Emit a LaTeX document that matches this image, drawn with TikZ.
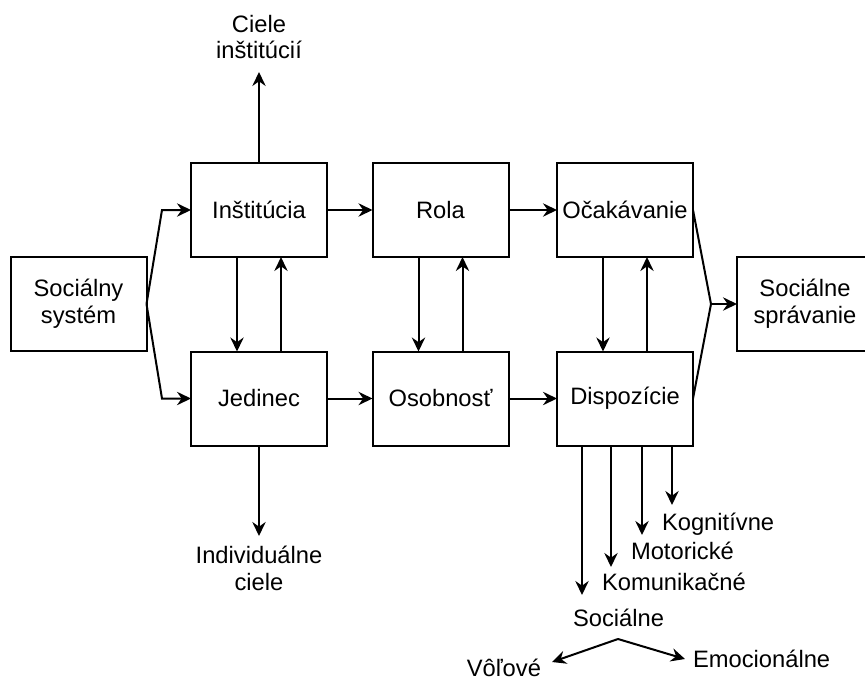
\documentclass[tikz,border=0pt]{standalone}
\usepackage{fontspec}
\setmainfont{Liberation Sans}
\usetikzlibrary{arrows.meta,calc}
\begin{document}
\begin{tikzpicture}[x=0.75pt,y=-0.75pt, line width=1.5pt,
  box/.style={draw, minimum width=102pt, minimum height=70.5pt, inner sep=0pt, outer sep=0pt, align=center, font=\fontsize{17.8}{20}\selectfont},
  lbl/.style={inner sep=0pt, outer sep=0pt, align=center, font=\fontsize{17.8}{20}\selectfont},
  arr/.style={-{Stealth[length=10.5pt,width=10pt,inset=3.5pt]}, line join=miter}]
\useasboundingbox (0,0) rectangle (865,679);

% boxes
\node[box] (sys)  at (78.5,304) {Sociálny\\systém};
\node[box] (inst) at (259,210) {Inštitúcia};
\node[box] (jed)  at (259,398.5) {Jedinec};
\node[box] (rola) at (440.5,210) {Rola};
\node[box] (osob) at (440.5,398.5) {Osobnosť};
\node[box] (ocak) at (625,210) {Očakávanie};
\node[box] (disp) at (625,398.5) {Dispozície};
\node[box] (soc)  at (805,304) {Sociálne\\správanie};

% free labels
\node[lbl, anchor=north] (ciele) at (259,15) {Ciele\\inštitúcií};
\node[lbl, anchor=north] (indiv) at (259,546) {Individuálne\\ciele};
\node[lbl, anchor=base west] (kog) at (662,530) {Kognitívne};
\node[lbl, anchor=base west] (mot) at (631,559) {Motorické};
\node[lbl, anchor=base west] (kom) at (602,590) {Komunikačné};
\node[lbl, anchor=base west] (socl) at (573,626) {Sociálne};
\node[lbl, anchor=base east] (vol) at (541,676.5) {Vôľové};
\node[lbl, anchor=base west] (emo) at (693,667) {Emocionálne};

% connector points
\coordinate (cieletip) at (259,72);
\coordinate (indivtip) at (259,536);
\coordinate (merge) at (711,304);
\coordinate (kogtip) at (672,505);
\coordinate (mottip) at (642,535);
\coordinate (komtip) at (611,567);
\coordinate (soctip) at (582,595);
\coordinate (fork) at (618,639);
\coordinate (voltip) at (552,662);
\coordinate (emotip) at (685,659);

% left fork
\draw[arr] (sys.east) -- ($(inst.west)+(-29,0)$) -- (inst.west);
\draw[arr] (sys.east) -- ($(jed.west)+(-29,0)$) -- (jed.west);

% horizontal
\draw[arr] (inst.east) -- (rola.west);
\draw[arr] (rola.east) -- (ocak.west);
\draw[arr] (jed.east) -- (osob.west);
\draw[arr] (osob.east) -- (disp.west);

% vertical pairs
\foreach \a/\b in {inst/jed, rola/osob, ocak/disp}{
  \draw[arr] ($(\a.south)+(-22,0)$) -- ($(\b.north)+(-22,0)$);
  \draw[arr] ($(\b.north)+(22,0)$) -- ($(\a.south)+(22,0)$);
}

% top / bottom outputs
\draw[arr] (inst.north) -- (cieletip);
\draw[arr] (jed.south) -- (indivtip);

% right merge
\draw (ocak.east) -- (merge);
\draw (disp.east) -- (merge);
\draw[arr] (merge) -- (soc.west);

% dispositions
\draw[arr] (disp.south -| kogtip) -- (kogtip);
\draw[arr] (disp.south -| mottip) -- (mottip);
\draw[arr] (disp.south -| komtip) -- (komtip);
\draw[arr] (disp.south -| soctip) -- (soctip);

% social fork
\draw[arr] (fork) -- (voltip);
\draw[arr] (fork) -- (emotip);
\end{tikzpicture}
\end{document}
